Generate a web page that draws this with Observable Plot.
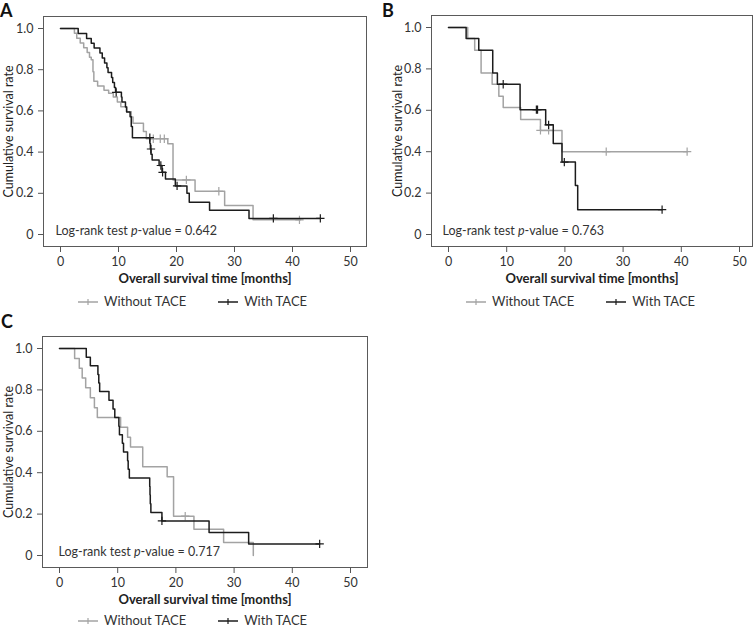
<!DOCTYPE html>
<html>
<head>
<meta charset="utf-8">
<script src="https://cdn.jsdelivr.net/npm/d3@7"></script>
<script src="https://cdn.jsdelivr.net/npm/@observablehq/plot@0.6"></script>
<style>
  html, body { margin: 0; padding: 0; background: #fff; }
  #root { position: relative; width: 755px; height: 629px; overflow: hidden; font-family: Lato, "Open Sans", sans-serif; color: #222; }
  .panel { position: absolute; }
  .letter { position: absolute; font-weight: bold; font-size: 18px; line-height: 20px; color: #111; }
  .legend { position: absolute; font-size: 13px; line-height: 13px; color: #333; white-space: nowrap; display: flex; align-items: center; }
  .legend svg { display: block; margin-right: 6px; }
  .legend .item { display: flex; align-items: center; }
</style>
</head>
<body>
<div id="root"></div>
<script>
// ---------- data ----------
const seriesNames = ["Without TACE", "With TACE"];
const xTicks = [0, 10, 20, 30, 40, 50];
const yTicks = [0, 0.2, 0.4, 0.6, 0.8, 1.0];
const xTitle = "Overall survival time [months]";
const yTitle = "Cumulative survival rate";
const panelLetters = ["A", "B", "C"];
const pValues = ["0.642", "0.763", "0.717"];

// Panel A
const aWithout = [[0,1],[2.4,0.977],[2.8,0.953],[3.4,0.93],[4.0,0.907],[4.6,0.884],[5.0,0.86],[5.3,0.848],[5.6,0.79],[5.75,0.744],[6.4,0.721],[7.5,0.70],[8.3,0.686],[9.1,0.667],[9.8,0.643],[10.4,0.62],[11.4,0.596],[12.2,0.57],[12.5,0.54],[14.3,0.50],[14.8,0.465],[18.5,0.44],[19.4,0.265],[23.2,0.21],[28.3,0.141],[33.2,0.071],[41.4,0.071]];
const aWithoutCensor = [[16.0,0.465],[17.2,0.465],[17.9,0.465],[21.7,0.265],[27.3,0.21],[41.2,0.071]];
const aWith = [[0,1],[3.05,0.976],[4.5,0.952],[5.3,0.929],[5.8,0.905],[6.8,0.881],[7.2,0.857],[7.6,0.833],[8.0,0.81],[8.2,0.786],[8.8,0.762],[9.0,0.738],[9.3,0.714],[9.5,0.69],[10.5,0.667],[10.6,0.643],[11.2,0.619],[11.4,0.595],[12.0,0.571],[12.2,0.524],[12.4,0.47],[15.4,0.443],[15.5,0.415],[15.6,0.389],[15.8,0.362],[17.0,0.335],[17.5,0.302],[18.1,0.27],[19.8,0.236],[21.8,0.20],[22.2,0.157],[25.7,0.118],[32.5,0.078],[44.8,0.078]];
const aWithCensor = [[9.6,0.69],[15.4,0.47],[15.6,0.415],[17.3,0.335],[17.6,0.302],[20.1,0.236],[36.7,0.078],[44.8,0.078]];

// Panel B
const bWithout = [[0,1],[3.3,0.947],[4.5,0.89],[5.6,0.78],[7.5,0.726],[8.65,0.668],[9.4,0.613],[12.4,0.556],[15.8,0.503],[19.5,0.40],[41.0,0.40]];
const bWithoutCensor = [[15.8,0.503],[17.2,0.503],[27.1,0.40],[41.0,0.40]];
const bWith = [[0,1],[3.03,0.947],[5.2,0.89],[7.6,0.78],[8.4,0.726],[12.3,0.603],[16.7,0.53],[18.0,0.44],[19.5,0.35],[21.8,0.237],[22.2,0.12],[36.7,0.12]];
const bWithCensor = [[9.4,0.726],[15.1,0.603],[15.3,0.603],[17.2,0.53],[19.9,0.35],[36.7,0.12]];

// Panel C
const cWithout = [[0,1],[2.6,0.952],[3.4,0.905],[3.9,0.857],[4.5,0.81],[5.3,0.762],[6.0,0.714],[6.5,0.667],[10.5,0.619],[11.7,0.571],[12.2,0.524],[14.3,0.429],[18.5,0.381],[19.6,0.19],[23.1,0.127],[28.2,0.063],[33.3,0],[33.3,0]];
const cWithoutCensor = [[21.6,0.19]];
const cWith = [[0,1],[4.6,0.958],[5.3,0.917],[6.6,0.875],[6.75,0.833],[6.9,0.792],[8.5,0.75],[9.2,0.708],[9.5,0.667],[10.2,0.625],[10.3,0.583],[10.8,0.542],[11.0,0.5],[11.7,0.458],[11.8,0.417],[12.0,0.375],[15.5,0.333],[15.55,0.292],[15.6,0.25],[15.7,0.208],[17.6,0.167],[25.7,0.111],[32.5,0.056],[44.7,0.056]];
const cWithCensor = [[17.6,0.167],[44.7,0.056]];

// ---------- drawing ----------
const colWithout = "#a3a3a3";
const colWith = "#1c1c1c";
const toObj = arr => arr.map(([t, s]) => ({t, s}));

function panel(opts) {
  const svg = Plot.plot({
    width: opts.width, height: opts.height,
    marginLeft: opts.ml, marginRight: opts.mr, marginTop: opts.mt, marginBottom: opts.mb,
    x: {domain: [0, 50], insetLeft: 17, insetRight: opts.ir},
    y: {domain: [0, 1], insetTop: 12, insetBottom: 12},
    style: {fontFamily: "Lato, sans-serif", fontSize: "12.5px", color: "#333", background: "transparent", overflow: "visible"},
    marks: [
      Plot.frame({stroke: "#5a5a5a", strokeWidth: 1}),
      Plot.axisX({ticks: xTicks, tickSize: 6, tickPadding: 5, label: null, stroke: "#555"}),
      Plot.axisY({ticks: yTicks, tickSize: 5, tickPadding: 5, label: null, stroke: "#555",
                  tickFormat: d => d === 0 ? "0" : d.toFixed(1)}),
      Plot.line(toObj(opts.without), {x: "t", y: "s", curve: "step-after", stroke: colWithout, strokeWidth: 1.5}),
      Plot.dot(toObj(opts.withoutCensor), {x: "t", y: "s", symbol: "plus", r: 2.8, stroke: colWithout, strokeWidth: 1.2}),
      Plot.line(toObj(opts.with), {x: "t", y: "s", curve: "step-after", stroke: colWith, strokeWidth: 1.5}),
      Plot.dot(toObj(opts.withCensor), {x: "t", y: "s", symbol: "plus", r: 2.8, stroke: colWith, strokeWidth: 1.2}),
      Plot.text([xTitle], {frameAnchor: "bottom", dy: 36, fontWeight: "bold", fontSize: 13, fill: "#222"}),
      Plot.text([yTitle], {frameAnchor: "left", textAnchor: "middle", dx: -opts.ydx, rotate: -90, fontSize: 12.5, fill: "#222"}),
      Plot.text(["Log-rank test p-value = " + opts.p], {frameAnchor: "bottom-left", dx: opts.pdx, dy: -12, textAnchor: "start", fontSize: 12.5, fill: "#333"})
    ]
  });
  // italic "p" in the log-rank text
  svg.querySelectorAll("text").forEach(t => {
    if (t.textContent.startsWith("Log-rank")) {
      const val = t.textContent.split("= ")[1];
      t.textContent = "";
      const sel = d3.select(t);
      sel.append("tspan").text("Log-rank test ");
      sel.append("tspan").attr("font-style", "italic").text("p");
      sel.append("tspan").text("-value = " + val);
    }
  });
  svg.classList.add("panel");
  svg.style.left = opts.left + "px";
  svg.style.top = opts.top + "px";
  return svg;
}

function legend(left, top) {
  const div = document.createElement("div");
  div.className = "legend";
  div.style.left = left + "px";
  div.style.top = top + "px";
  [[seriesNames[0], colWithout], [seriesNames[1], colWith]].forEach(([name, col], i) => {
    const item = document.createElement("div");
    item.className = "item";
    if (i === 1) item.style.marginLeft = "32px";
    item.innerHTML = `<svg width="20" height="10"><line x1="0" x2="20" y1="5" y2="5" stroke="${col}" stroke-width="1.5"/><line x1="10" x2="10" y1="2" y2="8" stroke="${col}" stroke-width="1.2"/></svg><span>${name}</span>`;
    div.appendChild(item);
  });
  return div;
}

function letter(txt, left, top) {
  const d = document.createElement("div");
  d.className = "letter";
  d.textContent = txt;
  d.style.left = left + "px";
  d.style.top = top + "px";
  return d;
}

const root = document.getElementById("root");
root.appendChild(panel({left: 0, top: 0, width: 380, height: 310, ml: 43, mr: 14, mt: 16, mb: 64, ir: 16, ydx: 35, pdx: 12,
  without: aWithout, withoutCensor: aWithoutCensor, with: aWith, withCensor: aWithCensor, p: pValues[0]}));
root.appendChild(panel({left: 380, top: 0, width: 375, height: 310, ml: 51, mr: 3, mt: 15, mb: 64, ir: 13, ydx: 34, pdx: 11,
  without: bWithout, withoutCensor: bWithoutCensor, with: bWith, withCensor: bWithCensor, p: pValues[1]}));
root.appendChild(panel({left: 0, top: 320, width: 380, height: 309, ml: 42, mr: 13, mt: 16, mb: 62, ir: 17, ydx: 34, pdx: 16,
  without: cWithout, withoutCensor: cWithoutCensor, with: cWith, withCensor: cWithCensor, p: pValues[2]}));

root.appendChild(legend(78, 295));
root.appendChild(legend(466, 295));
root.appendChild(legend(78, 614));

root.appendChild(letter(panelLetters[0], 0, 0));
root.appendChild(letter(panelLetters[1], 382, 0));
root.appendChild(letter(panelLetters[2], 1, 311));
</script>
</body>
</html>
